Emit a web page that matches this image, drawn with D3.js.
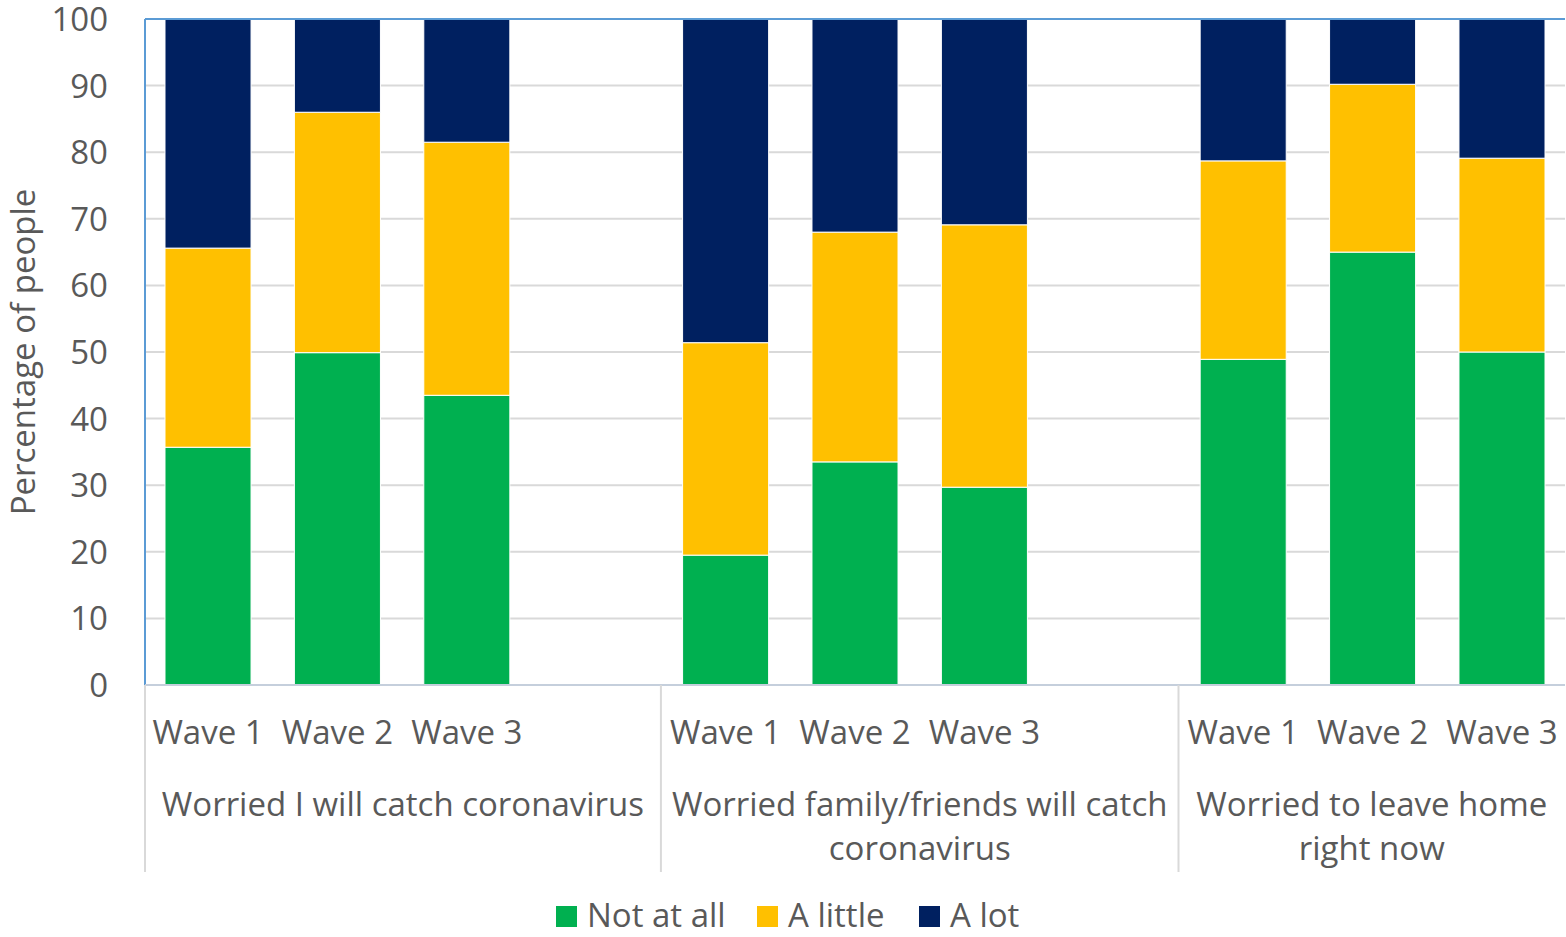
<!DOCTYPE html>
<html>
<head>
<meta charset="utf-8">
<script src="https://cdn.jsdelivr.net/npm/d3@7"></script>
<style>
  html, body { margin: 0; padding: 0; background: #fff; }
  svg text { font-family: "Open Sans", Lato, sans-serif; fill: #595959; }
</style>
</head>
<body>
<svg id="chart" width="1566" height="937"></svg>
<script>
// ---- data ----
const groups = ["Worried I will catch coronavirus", "Worried family/friends will catch coronavirus", "Worried to leave home right now"];
const groupLines = [["Worried I will catch coronavirus"], ["Worried family/friends will catch", "coronavirus"], ["Worried to leave home", "right now"]];
const waves = ["Wave 1", "Wave 2", "Wave 3"];
const seriesNames = ["Not at all", "A little", "A lot"];
const colors = ["#00B050", "#FFC000", "#002060"];
// values per group, per wave
const notAtAll = [[35.7, 49.9, 43.5], [19.5, 33.5, 29.7], [48.9, 65.0, 50.0]];
const aLittle  = [[29.9, 36.1, 38.0], [31.9, 34.5, 39.4], [29.8, 25.2, 29.1]];
const aLot     = [[34.4, 14.0, 18.5], [48.6, 32.0, 30.9], [21.3, 9.8, 20.9]];
const yTicks = [0, 10, 20, 30, 40, 50, 60, 70, 80, 90, 100];

// ---- layout ----
const FS = 33;
const svg = d3.select("#chart");
const mLeft = 145, mRight = 1565, mTop = 19, mBottom = 685;

// slot list: 3 waves + blank per group (no trailing blank)
const slots = [];
groups.forEach((g, gi) => {
  waves.forEach((w, wi) => slots.push({ key: gi + "-" + wi, gi, wi, wave: w }));
  if (gi < groups.length - 1) slots.push({ key: gi + "-blank", gi, wi: -1, wave: "" });
});

const x = d3.scaleBand().domain(slots.map(s => s.key)).range([mLeft, mRight]).paddingInner(0.335).paddingOuter(0.1545);
const y = d3.scaleLinear().domain([0, 100]).range([mBottom, mTop]);

// gridlines
svg.append("g").selectAll("line").data(yTicks.filter(t => t > 0 && t < 100)).join("line")
  .attr("x1", mLeft).attr("x2", mRight)
  .attr("y1", d => y(d)).attr("y2", d => y(d))
  .attr("stroke", "#d9d9d9").attr("stroke-width", 2);

// stacked data
const rows = [];
groups.forEach((g, gi) => waves.forEach((w, wi) => {
  rows.push({ key: gi + "-" + wi, "Not at all": notAtAll[gi][wi], "A little": aLittle[gi][wi], "A lot": aLot[gi][wi] });
}));
const stack = d3.stack().keys(seriesNames)(rows);

svg.append("g").selectAll("g").data(stack).join("g")
  .attr("fill", (d, i) => colors[i])
  .selectAll("rect").data(d => d).join("rect")
  .attr("x", d => x(d.data.key))
  .attr("width", x.bandwidth())
  .attr("y", d => y(Math.min(d[1], 100)))
  .attr("height", d => y(d[0]) - y(Math.min(d[1], 100)))
  .attr("stroke", "#ffffff").attr("stroke-width", 1);

// plot border (top & left, blue)
svg.append("line").attr("x1", mLeft).attr("x2", mRight).attr("y1", mTop).attr("y2", mTop)
  .attr("stroke", "#5B9BD5").attr("stroke-width", 2);
svg.append("line").attr("x1", mLeft).attr("x2", mLeft).attr("y1", mTop).attr("y2", mBottom)
  .attr("stroke", "#5B9BD5").attr("stroke-width", 2);

// bottom axis line
svg.append("line").attr("x1", mLeft).attr("x2", mRight).attr("y1", mBottom).attr("y2", mBottom)
  .attr("stroke", "#c5cfdc").attr("stroke-width", 2);

// y axis labels
const yAxis = d3.axisLeft(y).tickValues(yTicks).tickSize(0).tickPadding(0);
const yg = svg.append("g").attr("transform", `translate(${mLeft - 37},0)`).call(yAxis);
yg.select(".domain").remove();
yg.selectAll("text").attr("font-size", FS).attr("font-family", "'Open Sans', sans-serif").attr("fill", "#595959").attr("dy", "0.35em");

// y title
svg.append("text").attr("transform", `translate(35,352) rotate(-90)`)
  .attr("text-anchor", "middle").attr("font-size", FS).text("Percentage of people");

// group separators
const sepXs = [mLeft, x("0-blank") + x.bandwidth() / 2 + x.step() / 2, x("1-blank") + x.bandwidth() / 2 + x.step() / 2];
svg.append("g").selectAll("line").data(sepXs).join("line")
  .attr("x1", d => d).attr("x2", d => d).attr("y1", mBottom).attr("y2", 872)
  .attr("stroke", "#d9d9d9").attr("stroke-width", 2);

// wave labels
svg.append("g").selectAll("text").data(slots.filter(s => s.wi >= 0)).join("text")
  .attr("x", d => x(d.key) + x.bandwidth() / 2).attr("y", 744)
  .attr("text-anchor", "middle").attr("font-size", FS).text(d => d.wave);

// group labels
const groupCenters = [
  (sepXs[0] + sepXs[1]) / 2,
  (sepXs[1] + sepXs[2]) / 2,
  (sepXs[2] + mRight) / 2
];
groupLines.forEach((lines, gi) => {
  lines.forEach((ln, li) => {
    svg.append("text").attr("x", groupCenters[gi]).attr("y", 816 + li * 44)
      .attr("text-anchor", "middle").attr("font-size", FS).text(ln);
  });
});

// legend
const legendX = [556, 757, 919];
const lg = svg.append("g");
seriesNames.forEach((s, i) => {
  lg.append("rect").attr("x", legendX[i]).attr("y", 906).attr("width", 21).attr("height", 21).attr("fill", colors[i]);
  lg.append("text").attr("x", legendX[i] + 31).attr("y", 927).attr("font-size", FS).text(s);
});
</script>
</body>
</html>
